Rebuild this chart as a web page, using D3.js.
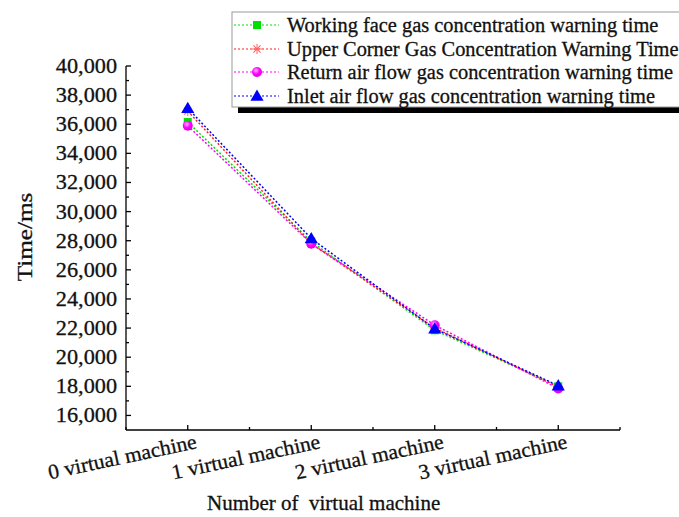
<!DOCTYPE html>
<html><head><meta charset="utf-8">
<script src="https://cdn.jsdelivr.net/npm/d3@7"></script>
<style>body{margin:0;background:#fff}svg{display:block}</style>
</head><body>
<script>
const categories = ["0 virtual machine","1 virtual machine","2 virtual machine","3 virtual machine"];
const workingFace = [36150, 27950, 21850, 18000];
const upperCorner = [36900, 27800, 22000, 17950];
const returnAir = [35900, 27800, 22200, 17850];
const inletAir = [37100, 28150, 21950, 18050];
const yTicks = [16000,18000,20000,22000,24000,26000,28000,30000,32000,34000,36000,38000,40000];
const seriesNames = ["Working face gas concentration warning time","Upper Corner Gas Concentration Warning Time","Return air flow gas concentration warning time","Inlet air flow gas concentration warning time"];
const seriesColors = ["#00e000","#ff2020","#ff00ff","#0000ff"];
const seriesMarkers = ["square","asterisk","circle","triangle"];
const seriesValues = [workingFace, upperCorner, returnAir, inletAir];

const W=679,H=517, FF="Liberation Serif";
const svg=d3.select("body").append("svg").attr("width",W).attr("height",H);
const defs=svg.append("defs");
const rg=defs.append("radialGradient").attr("id","mag").attr("cx","40%").attr("cy","35%").attr("r","65%");
rg.append("stop").attr("offset","0%").attr("stop-color","#ffb0ff");
rg.append("stop").attr("offset","55%").attr("stop-color","#ff00ff");
rg.append("stop").attr("offset","100%").attr("stop-color","#e000e0");
const x=d3.scaleLinear().domain([-0.5,3.5]).range([126,620]);
const y=d3.scaleLinear().domain([15000,40000]).range([430,66]);

function txt(parent,tr,size,anchor,s){
  return parent.append("text").attr("transform",tr).attr("font-family",FF).attr("font-size",size)
    .attr("text-anchor",anchor).attr("fill","#111").attr("stroke","#111").attr("stroke-width",0.3).text(s);
}

function marker(g,type,color,cx,cy){
  if(type==="square") g.append("rect").attr("x",cx-4).attr("y",cy-4).attr("width",8).attr("height",8).attr("fill",color);
  else if(type==="circle") g.append("circle").attr("cx",cx).attr("cy",cy).attr("r",5).attr("fill","url(#mag)");
  else if(type==="triangle") g.append("path").attr("d",d3.symbol(d3.symbolTriangle,75)()).attr("transform",`translate(${cx},${cy+1})`).attr("fill",color);
  else {
    const a=g.append("g").attr("transform",`translate(${cx},${cy})`).attr("stroke","#ff6060").attr("stroke-width",1);
    [0,45,90,135].forEach(r=>a.append("line").attr("x1",-5).attr("x2",5).attr("transform",`rotate(${r})`));
  }
}

const ax=svg.append("g").attr("stroke","#000").attr("stroke-width",1.3);
ax.append("line").attr("x1",126).attr("x2",126).attr("y1",y(40000)).attr("y2",y(15000));
ax.append("line").attr("x1",126).attr("x2",620).attr("y1",430).attr("y2",430);
d3.range(16000,40001,1000).forEach(v=>{
  const major=v%2000===0;
  ax.append("line").attr("x1",126).attr("x2",126+(major?5:3)).attr("y1",y(v)).attr("y2",y(v));
});
d3.range(-0.5,3.51,0.5).forEach(v=>{
  const major=Number.isInteger(v);
  ax.append("line").attr("x1",x(v)).attr("x2",x(v)).attr("y1",430).attr("y2",430-(major?5:3));
});
const fmt=d3.format(",");
yTicks.forEach(v=>txt(svg,`translate(117,${y(v)+7}) scale(1.06,1)`,21,"end",fmt(v)));
categories.forEach((c,i)=>txt(svg,`translate(${x(i)+10},${448}) rotate(-12) scale(1.03,1)`,21,"end",c));
txt(svg,`translate(${x(1.1)},510)`,21,"middle","Number of \u00a0virtual machine");
txt(svg,`translate(32,237) rotate(-90) scale(1.2,1)`,21,"middle","Time/ms");

const line=d3.line().x((d,i)=>x(i)).y(d=>y(d));
seriesValues.forEach((vals,k)=>{
  svg.append("path").attr("d",line(vals)).attr("fill","none").attr("stroke",seriesColors[k]).attr("stroke-width",1.5).attr("stroke-dasharray","2,2");
});
seriesValues.forEach((vals,k)=>{
  const g=svg.append("g");
  vals.forEach((v,i)=>marker(g,seriesMarkers[k],seriesColors[k],x(i),y(v)));
});

const lg=svg.append("g");
lg.append("rect").attr("x",238).attr("y",18).attr("width",470).attr("height",95).attr("fill","#000");
lg.append("rect").attr("x",232).attr("y",12).attr("width",470).attr("height",95).attr("fill","#fff").attr("stroke","#999").attr("stroke-width",1);
const rows=[25,49,72,96];
seriesNames.forEach((n,k)=>{
  const cy=rows[k];
  lg.append("line").attr("x1",234).attr("x2",279).attr("y1",cy).attr("y2",cy).attr("stroke",seriesColors[k]).attr("stroke-width",1.2).attr("stroke-dasharray","2,2");
  marker(lg,seriesMarkers[k],seriesColors[k],257,cy);
  txt(lg,`translate(287,${cy+7}) scale(1.02,1)`,20,"start",n);
});
</script>
</body></html>
